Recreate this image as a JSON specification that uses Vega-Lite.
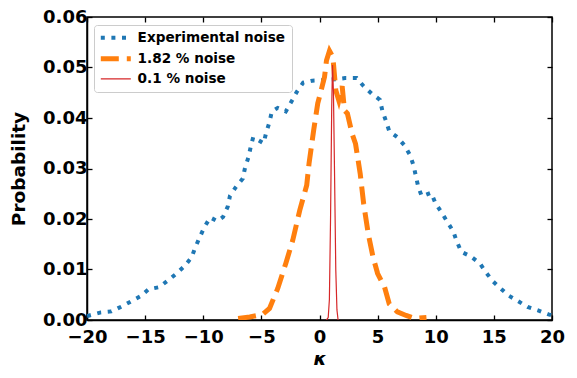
{
  "$schema": "https://vega.github.io/schema/vega-lite/v6.json",
  "width": 465,
  "height": 303,
  "autosize": {"type": "none"},
  "padding": {"left": 87, "top": 17, "right": 25, "bottom": 58},
  "background": "white",
  "config": {
    "font": "DejaVu Sans",
    "view": {"stroke": "black", "strokeWidth": 1.5},
    "axis": {
      "grid": false,
      "domainColor": "black",
      "domainWidth": 1.5,
      "tickColor": "black",
      "tickWidth": 1.3,
      "tickSize": -5,
      "labelFont": "DejaVu Sans",
      "labelFontWeight": "bold",
      "labelFontSize": 18,
      "labelColor": "black",
      "titleFont": "DejaVu Sans",
      "titleFontWeight": "bold",
      "titleFontSize": 18.5,
      "titleColor": "black"
    }
  },
  "data": {
    "values": [
      {"series": "Experimental noise", "k": -20, "p": 0.0008},
      {"series": "Experimental noise", "k": -19.8, "p": 0.0009},
      {"series": "Experimental noise", "k": -18.8, "p": 0.0015},
      {"series": "Experimental noise", "k": -17.9, "p": 0.0017},
      {"series": "Experimental noise", "k": -17.0, "p": 0.0027},
      {"series": "Experimental noise", "k": -16.2, "p": 0.0037},
      {"series": "Experimental noise", "k": -15.4, "p": 0.0047},
      {"series": "Experimental noise", "k": -14.7, "p": 0.0061},
      {"series": "Experimental noise", "k": -13.8, "p": 0.0065},
      {"series": "Experimental noise", "k": -13.0, "p": 0.0079},
      {"series": "Experimental noise", "k": -12.3, "p": 0.0092},
      {"series": "Experimental noise", "k": -11.6, "p": 0.0107},
      {"series": "Experimental noise", "k": -11.0, "p": 0.0124},
      {"series": "Experimental noise", "k": -10.7, "p": 0.0143},
      {"series": "Experimental noise", "k": -10.3, "p": 0.0164},
      {"series": "Experimental noise", "k": -9.9, "p": 0.0184},
      {"series": "Experimental noise", "k": -9.4, "p": 0.0203},
      {"series": "Experimental noise", "k": -8.8, "p": 0.0196},
      {"series": "Experimental noise", "k": -8.3, "p": 0.0204},
      {"series": "Experimental noise", "k": -7.9, "p": 0.0224},
      {"series": "Experimental noise", "k": -7.7, "p": 0.0246},
      {"series": "Experimental noise", "k": -7.2, "p": 0.0263},
      {"series": "Experimental noise", "k": -6.6, "p": 0.0280},
      {"series": "Experimental noise", "k": -6.4, "p": 0.0302},
      {"series": "Experimental noise", "k": -6.1, "p": 0.0323},
      {"series": "Experimental noise", "k": -5.9, "p": 0.0345},
      {"series": "Experimental noise", "k": -5.7, "p": 0.0362},
      {"series": "Experimental noise", "k": -4.8, "p": 0.0350},
      {"series": "Experimental noise", "k": -4.6, "p": 0.0370},
      {"series": "Experimental noise", "k": -4.3, "p": 0.0392},
      {"series": "Experimental noise", "k": -4.1, "p": 0.0413},
      {"series": "Experimental noise", "k": -3.6, "p": 0.0420},
      {"series": "Experimental noise", "k": -2.9, "p": 0.0413},
      {"series": "Experimental noise", "k": -2.4, "p": 0.0433},
      {"series": "Experimental noise", "k": -1.95, "p": 0.0452},
      {"series": "Experimental noise", "k": -1.4, "p": 0.0470},
      {"series": "Experimental noise", "k": -0.6, "p": 0.0474},
      {"series": "Experimental noise", "k": 0.5, "p": 0.0475},
      {"series": "Experimental noise", "k": 1.5, "p": 0.0477},
      {"series": "Experimental noise", "k": 2.2, "p": 0.0479},
      {"series": "Experimental noise", "k": 3.2, "p": 0.0479},
      {"series": "Experimental noise", "k": 3.8, "p": 0.0463},
      {"series": "Experimental noise", "k": 4.5, "p": 0.0448},
      {"series": "Experimental noise", "k": 5.2, "p": 0.0436},
      {"series": "Experimental noise", "k": 5.4, "p": 0.0415},
      {"series": "Experimental noise", "k": 5.7, "p": 0.0395},
      {"series": "Experimental noise", "k": 6.0, "p": 0.0374},
      {"series": "Experimental noise", "k": 6.7, "p": 0.0362},
      {"series": "Experimental noise", "k": 7.3, "p": 0.0346},
      {"series": "Experimental noise", "k": 7.8, "p": 0.0326},
      {"series": "Experimental noise", "k": 8.1, "p": 0.0305},
      {"series": "Experimental noise", "k": 8.3, "p": 0.0284},
      {"series": "Experimental noise", "k": 8.5, "p": 0.0263},
      {"series": "Experimental noise", "k": 8.8, "p": 0.0245},
      {"series": "Experimental noise", "k": 9.6, "p": 0.0252},
      {"series": "Experimental noise", "k": 10.0, "p": 0.0230},
      {"series": "Experimental noise", "k": 10.5, "p": 0.0213},
      {"series": "Experimental noise", "k": 11.0, "p": 0.0194},
      {"series": "Experimental noise", "k": 11.5, "p": 0.0176},
      {"series": "Experimental noise", "k": 11.8, "p": 0.0156},
      {"series": "Experimental noise", "k": 12.2, "p": 0.0135},
      {"series": "Experimental noise", "k": 13.0, "p": 0.0126},
      {"series": "Experimental noise", "k": 13.8, "p": 0.0112},
      {"series": "Experimental noise", "k": 14.3, "p": 0.0095},
      {"series": "Experimental noise", "k": 14.9, "p": 0.0077},
      {"series": "Experimental noise", "k": 15.6, "p": 0.0062},
      {"series": "Experimental noise", "k": 16.3, "p": 0.0048},
      {"series": "Experimental noise", "k": 17.1, "p": 0.0037},
      {"series": "Experimental noise", "k": 17.9, "p": 0.0026},
      {"series": "Experimental noise", "k": 18.8, "p": 0.0019},
      {"series": "Experimental noise", "k": 19.7, "p": 0.0011},
      {"series": "Experimental noise", "k": 20, "p": 0.0009},
      {"series": "1.82 % noise", "k": -7.0, "p": 0.0003},
      {"series": "1.82 % noise", "k": -6.0, "p": 0.0006},
      {"series": "1.82 % noise", "k": -4.9, "p": 0.0011},
      {"series": "1.82 % noise", "k": -4.3, "p": 0.0023},
      {"series": "1.82 % noise", "k": -3.6, "p": 0.0062},
      {"series": "1.82 % noise", "k": -2.9, "p": 0.0112},
      {"series": "1.82 % noise", "k": -2.3, "p": 0.0158},
      {"series": "1.82 % noise", "k": -1.7, "p": 0.0217},
      {"series": "1.82 % noise", "k": -1.1, "p": 0.0267},
      {"series": "1.82 % noise", "k": -0.9, "p": 0.0310},
      {"series": "1.82 % noise", "k": -0.5, "p": 0.0376},
      {"series": "1.82 % noise", "k": -0.15, "p": 0.0429},
      {"series": "1.82 % noise", "k": 0.43, "p": 0.0481},
      {"series": "1.82 % noise", "k": 0.6, "p": 0.0514},
      {"series": "1.82 % noise", "k": 0.86, "p": 0.0533},
      {"series": "1.82 % noise", "k": 1.15, "p": 0.0521},
      {"series": "1.82 % noise", "k": 1.4, "p": 0.0455},
      {"series": "1.82 % noise", "k": 1.66, "p": 0.0435},
      {"series": "1.82 % noise", "k": 1.95, "p": 0.0463},
      {"series": "1.82 % noise", "k": 2.15, "p": 0.0415},
      {"series": "1.82 % noise", "k": 2.4, "p": 0.0409},
      {"series": "1.82 % noise", "k": 2.8, "p": 0.0369},
      {"series": "1.82 % noise", "k": 3.1, "p": 0.0349},
      {"series": "1.82 % noise", "k": 3.5, "p": 0.0290},
      {"series": "1.82 % noise", "k": 3.8, "p": 0.0230},
      {"series": "1.82 % noise", "k": 4.2, "p": 0.0170},
      {"series": "1.82 % noise", "k": 4.6, "p": 0.0125},
      {"series": "1.82 % noise", "k": 5.0, "p": 0.0092},
      {"series": "1.82 % noise", "k": 5.6, "p": 0.0065},
      {"series": "1.82 % noise", "k": 6.0, "p": 0.0032},
      {"series": "1.82 % noise", "k": 6.7, "p": 0.0016},
      {"series": "1.82 % noise", "k": 7.45, "p": 0.0009},
      {"series": "1.82 % noise", "k": 8.2, "p": 0.0003},
      {"series": "1.82 % noise", "k": 9.2, "p": 0.0005},
      {"series": "0.1 % noise", "k": 0.6, "p": 0.0},
      {"series": "0.1 % noise", "k": 0.75, "p": 0.0005},
      {"series": "0.1 % noise", "k": 0.85, "p": 0.004},
      {"series": "0.1 % noise", "k": 0.95, "p": 0.02},
      {"series": "0.1 % noise", "k": 1.05, "p": 0.042},
      {"series": "0.1 % noise", "k": 1.12, "p": 0.0505},
      {"series": "0.1 % noise", "k": 1.2, "p": 0.045},
      {"series": "0.1 % noise", "k": 1.3, "p": 0.028},
      {"series": "0.1 % noise", "k": 1.4, "p": 0.01},
      {"series": "0.1 % noise", "k": 1.5, "p": 0.002},
      {"series": "0.1 % noise", "k": 1.6, "p": 0.0}
    ]
  },
  "layer": [
    {
      "mark": {"type": "line", "strokeCap": "butt", "clip": true},
      "encoding": {
        "x": {
          "field": "k", "type": "quantitative",
          "scale": {"domain": [-20, 20], "nice": false, "zero": false},
          "axis": {"values": [-20, -15, -10, -5, 0, 5, 10, 15, 20], "title": "κ", "titleFontStyle": "italic", "labelPadding": 13, "titlePadding": 3, "labelFlush": false}
        },
        "y": {
          "field": "p", "type": "quantitative",
          "scale": {"domain": [0, 0.06], "nice": false},
          "axis": {"values": [0, 0.01, 0.02, 0.03, 0.04, 0.05, 0.06], "format": ".2f", "title": "Probability", "labelPadding": 5, "titlePadding": 14}
        },
        "color": {
          "field": "series", "type": "nominal",
          "scale": {"domain": ["Experimental noise", "1.82 % noise", "0.1 % noise"], "range": ["#1f77b4", "#ff7f0e", "#d62728"]},
          "legend": {
            "title": null,
            "orient": "none",
            "legendX": 7,
            "legendY": 8,
            "symbolType": "M-3,0L3,0",
            "symbolSize": 100,
            "symbolOffset": 9,
            "labelOffset": 15,
            "labelFont": "DejaVu Sans",
            "labelFontWeight": "bold",
            "labelFontSize": 13.6,
            "labelColor": "black",
            "rowPadding": 2,
            "padding": 6,
            "strokeColor": "#cccccc",
            "fillColor": "white",
            "cornerRadius": 3,
            "encode": {
              "symbols": {
                "update": {
                  "strokeWidth": {"signal": "datum.value === '0.1 % noise' ? 1.2 : (datum.value === '1.82 % noise' ? 5 : 4)"}
                }
              }
            }
          }
        },
        "strokeDash": {
          "field": "series", "type": "nominal",
          "scale": {"domain": ["Experimental noise", "1.82 % noise", "0.1 % noise"], "range": [[4, 6.6], [18, 8], [1, 0]]},
          "legend": null
        },
        "strokeWidth": {
          "condition": [
            {"test": "datum.series === '0.1 % noise'", "value": 1.2},
            {"test": "datum.series === '1.82 % noise'", "value": 5}
          ],
          "value": 4
        }
      }
    },
    {
      "mark": {"type": "point", "opacity": 0},
      "encoding": {
        "x": {"field": "k", "type": "quantitative", "axis": {"values": [-20, -15, -10, -5, 0, 5, 10, 15, 20], "labels": false, "title": null, "domain": false}},
        "y": {"field": "p", "type": "quantitative", "axis": {"values": [0, 0.01, 0.02, 0.03, 0.04, 0.05, 0.06], "labels": false, "title": null, "domain": false}}
      }
    }
  ],
  "resolve": {"axis": {"x": "independent", "y": "independent"}}
}
